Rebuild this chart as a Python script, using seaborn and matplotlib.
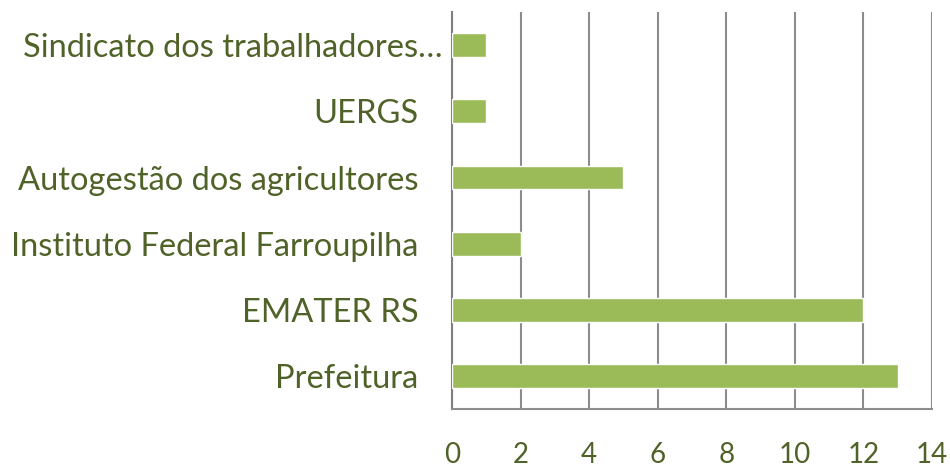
import pandas as pd
import seaborn as sns
import matplotlib.pyplot as plt
from matplotlib.transforms import ScaledTranslation

# categorias de cima para baixo
categorias = ['Sindicato dos trabalhadores…', 'UERGS', 'Autogestão dos agricultores',
              'Instituto Federal Farroupilha', 'EMATER RS', 'Prefeitura']
valores = [1, 1, 5, 2, 12, 13]
ticks_x = [0, 2, 4, 6, 8, 10, 12, 14]

df = pd.DataFrame({'categoria': categorias, 'valor': valores})

sns.set_style("white")
plt.rcParams['font.family'] = ['Lato', 'DejaVu Sans']

texto = '#4F6228'
grade = '#8C8C8C'

fig = plt.figure(figsize=(9.5, 4.67), dpi=100)
ax = fig.add_axes([0.4758, 0.124, 0.5052, 0.850])

sns.barplot(data=df, x='valor', y='categoria', color='#9BBB59', saturation=1,
            width=0.36, ax=ax, zorder=3)

ax.set_xlim(0, 14)
ax.set_ylim(5.5, -0.5)
ax.set_xticks(ticks_x)
ax.set_xticklabels([str(t) for t in ticks_x])
ax.xaxis.grid(True, color=grade, linewidth=1.5, zorder=0)
ax.yaxis.grid(False)
ax.set_xlabel('')
ax.set_ylabel('')

for lado in ['top', 'right']:
    ax.spines[lado].set_visible(False)
ax.spines['left'].set_color('#808080')
ax.spines['left'].set_linewidth(1.5)
ax.spines['bottom'].set_color(grade)
ax.spines['bottom'].set_linewidth(1.5)

ax.tick_params(axis='x', length=0, pad=24, labelsize=20, labelcolor=texto)
ax.tick_params(axis='y', length=0, pad=24, labelsize=23.5, labelcolor=texto)

# o rótulo truncado do Excel fica mais à direita
primeiro = ax.get_yticklabels()[0]
primeiro.set_transform(primeiro.get_transform() +
                       ScaledTranslation(24 / 100, 0, fig.dpi_scale_trans))

fig.savefig('out.png', dpi=100)
